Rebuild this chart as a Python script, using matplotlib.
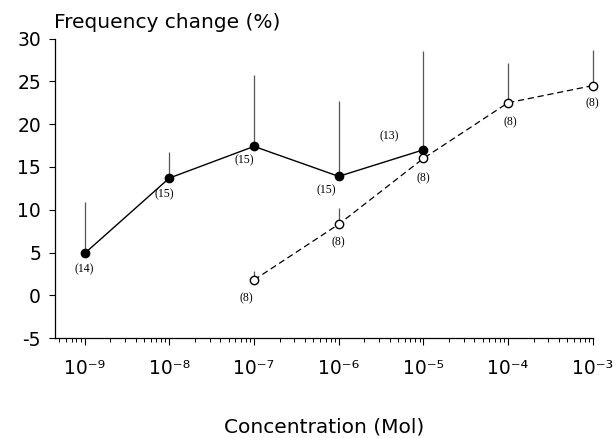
import numpy as np
import matplotlib
matplotlib.use("Agg")
import matplotlib.pyplot as plt
from matplotlib.ticker import FixedLocator, LogLocator, NullFormatter

# --- data ---
# filled circles, solid line
conc_a = [1e-9, 1e-8, 1e-7, 1e-6, 1e-5]
freq_a = [4.9, 13.7, 17.4, 13.9, 17.0]
err_top_a = [10.9, 16.7, 25.7, 22.7, 28.5]
n_a = ["(14)", "(15)", "(15)", "(15)", "(13)"]

# open circles, dashed line
conc_b = [1e-7, 1e-6, 1e-5, 1e-4, 1e-3]
freq_b = [1.8, 8.3, 16.0, 22.5, 24.5]
err_top_b = [2.9, 10.2, 16.0, 27.2, 28.7]
n_b = ["(8)", "(8)", "(8)", "(8)", "(8)"]

x_exponents = [-9, -8, -7, -6, -5, -4, -3]
y_ticks = [-5, 0, 5, 10, 15, 20, 25, 30]

# label offsets (pixels) relative to each point
off_a = [(0, -16), (-5, -16), (-10, -14), (-12, -14), (-34, 14)]
off_b = [(-8, -18), (0, -18), (0, -20), (2, -20), (0, -18)]

SUP = str.maketrans("-0123456789", "⁻⁰¹²³⁴⁵⁶⁷⁸⁹")

sans = "DejaVu Sans"
serif = "Liberation Serif"

fig = plt.figure(figsize=(6.16, 4.38), dpi=100)
ax = fig.add_axes([0.0893, 0.228, 0.873, 0.684])

# error bars (upper only)
ax.vlines(conc_a, freq_a, err_top_a, color="#555555", lw=0.9, zorder=1, clip_on=False)
ax.vlines(conc_b, freq_b, err_top_b, color="#555555", lw=0.9, zorder=1, clip_on=False)

ax.plot(conc_a, freq_a, "-", color="black", lw=1.0, marker="o",
        markersize=6, markerfacecolor="black", markeredgecolor="black",
        zorder=3, clip_on=False)
ax.plot(conc_b, freq_b, "--", color="black", lw=0.9, dashes=(5, 3), marker="o",
        markersize=6, markerfacecolor="white", markeredgecolor="black",
        markeredgewidth=1.0, zorder=3, clip_on=False)

for x, y, t, o in zip(conc_a, freq_a, n_a, off_a):
    ax.annotate(t, (x, y), xytext=o, textcoords="offset pixels", annotation_clip=False,
                ha="center", va="center", fontsize=8.5, family=serif)
for x, y, t, o in zip(conc_b, freq_b, n_b, off_b):
    ax.annotate(t, (x, y), xytext=o, textcoords="offset pixels", annotation_clip=False,
                ha="center", va="center", fontsize=8.5, family=serif)

ax.set_xscale("log")
ax.set_xlim(10 ** -9.35, 1e-3)
ax.set_ylim(-5, 30)

ax.xaxis.set_major_locator(FixedLocator([10.0 ** e for e in x_exponents]))
ax.set_xticklabels(["10" + str(e).translate(SUP) for e in x_exponents],
                   family=sans, fontsize=13.5)
ax.xaxis.set_minor_locator(LogLocator(base=10, subs=np.arange(2, 10)))
ax.xaxis.set_minor_formatter(NullFormatter())
ax.tick_params(axis="x", which="major", direction="out", length=5, width=0.8, pad=10)
ax.tick_params(axis="x", which="minor", direction="out", length=3, width=0.7)

ax.set_yticks(y_ticks)
ax.set_yticklabels([str(v) for v in y_ticks], family=sans, fontsize=13.5)
ax.tick_params(axis="y", direction="out", length=4, width=0.8, pad=6)

for side in ("top", "right"):
    ax.spines[side].set_visible(False)
for side in ("left", "bottom"):
    ax.spines[side].set_linewidth(0.9)

ax.set_xlabel("Concentration (Mol)", family=sans, fontsize=14.5)
ax.xaxis.set_label_coords(0.5, -0.265)
fig.text(54 / 616, 1 - 22 / 438, "Frequency change (%)", family=sans,
         fontsize=14.5, ha="left", va="center")

fig.savefig("out.png", dpi=100)
